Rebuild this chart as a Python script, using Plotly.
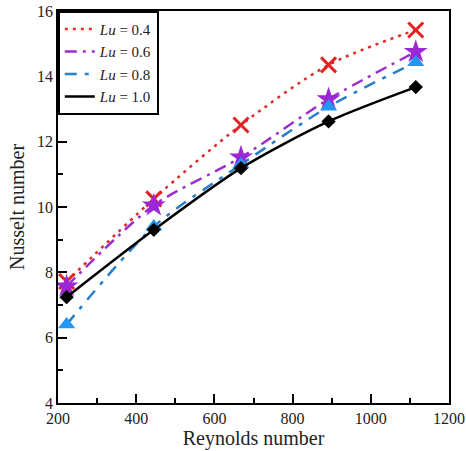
import plotly.graph_objects as go

reynolds = [222, 445, 668, 892, 1115]
nu_04 = [7.72, 10.25, 12.51, 14.35, 15.42]
nu_06 = [7.57, 10.05, 11.52, 13.3, 14.75]
nu_08 = [6.4, 9.4, 11.3, 13.07, 14.43]
nu_10 = [7.24, 9.3, 11.19, 12.62, 13.67]

labels = ["<i>Lu</i> = 0.4", "<i>Lu</i> = 0.6", "<i>Lu</i> = 0.8", "<i>Lu</i> = 1.0"]
series = [nu_04, nu_06, nu_08, nu_10]
line_colors = ["#e02a2a", "#9a2fd0", "#2a7fc8", "#000000"]
marker_colors = ["#e52222", "#9b27d6", "#2196f3", "#000000"]
dashes = ["3px,5px", "12px,6px,3px,6px", "12px,8px,4px,8px", "solid"]
symbols = ["x-thin", "star", "triangle-up", "diamond"]
sizes = [15, 18, 15, 11]

fig = go.Figure()
for lab, ys, lc, mc, d, s, sz in zip(labels, series, line_colors, marker_colors, dashes, symbols, sizes):
    fig.add_trace(go.Scatter(
        x=reynolds, y=ys, mode="lines", name=lab,
        line=dict(color=lc, width=2.5, dash=d, shape="spline", smoothing=0.8),
    ))
    fig.add_trace(go.Scatter(
        x=reynolds, y=ys, mode="markers", showlegend=False,
        marker=dict(symbol=s, size=sz, color=mc,
                    line=dict(color=mc, width=3 if s == "x-thin" else 0)),
    ))

axis_common = dict(
    showline=True, linecolor="black", linewidth=1.8, mirror=True,
    ticks="inside", ticklen=9, tickwidth=1.8, tickcolor="black",
    showgrid=False, zeroline=False, automargin=False,
    tickfont=dict(family="Liberation Serif", size=16, color="#222"),
)

fig.update_layout(
    width=466, height=451,
    margin=dict(l=58, r=17, t=11, b=48),
    plot_bgcolor="white", paper_bgcolor="white",
    font=dict(family="Liberation Serif", color="#222"),
    xaxis=dict(range=[200, 1200], dtick=200, tick0=200,
               minor=dict(dtick=100, ticks="inside", ticklen=5, tickwidth=1.8, tickcolor="black"),
               title=dict(text="Reynolds number", font=dict(size=20), standoff=0),
               **axis_common),
    yaxis=dict(range=[4, 16], dtick=2,
               minor=dict(dtick=1, ticks="inside", ticklen=5, tickwidth=1.8, tickcolor="black"),
               title=dict(text="Nusselt number", font=dict(size=20), standoff=7),
               **axis_common),
    legend=dict(x=0, y=1, xanchor="left", yanchor="top",
                bordercolor="black", borderwidth=1.8, bgcolor="white",
                font=dict(family="Liberation Serif", size=15, color="#222"),
                tracegroupgap=0, itemwidth=30),
)

# remove the page's default body margin so the figure fills the window exactly
fig.write_html("out.html", config={"displayModeBar": False},
               post_script="document.body.style.margin='0';document.body.style.overflow='hidden';")
